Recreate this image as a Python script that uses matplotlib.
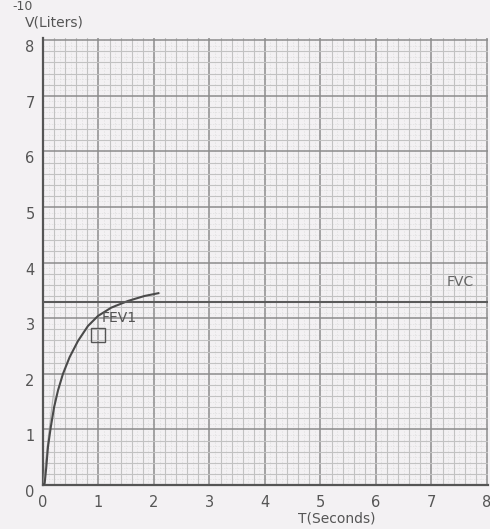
import matplotlib
matplotlib.use("Agg")
import matplotlib.pyplot as plt
import numpy as np
from matplotlib.ticker import MultipleLocator

# Data
curve_t = [0.0, 0.03, 0.06, 0.09, 0.14, 0.20, 0.27, 0.36, 0.48, 0.63, 0.81, 0.99, 1.23, 1.53, 1.83, 2.08]
curve_v = [0.0, 0.03, 0.33, 0.69, 1.04, 1.40, 1.70, 2.00, 2.30, 2.59, 2.86, 3.04, 3.19, 3.31, 3.40, 3.45]
faint_t = [0.0, 0.05, 0.10, 0.16, 0.22]
faint_v = [0.0, 0.45, 0.90, 1.40, 1.89]
fvc_level = 3.29
fev1_point = (1.0, 2.70)
x_ticks = [0, 1, 2, 3, 4, 5, 6, 7, 8]
y_ticks = [0, 1, 2, 3, 4, 5, 6, 7, 8]

W, H = 490, 529
fig = plt.figure(figsize=(W / 100, H / 100), dpi=100)
paper = "#f3f1f3"
fig.patch.set_facecolor(paper)

x0, x1 = 43, 488
y0, y1 = 485, 38
ax = fig.add_axes([x0 / W, 1 - y0 / H, (x1 - x0) / W, (y0 - y1) / H])
ax.set_facecolor(paper)
ax.set_xlim(0, 8.02)
ax.set_ylim(0, 8.04)

ax.xaxis.set_major_locator(MultipleLocator(1))
ax.yaxis.set_major_locator(MultipleLocator(1))
ax.xaxis.set_minor_locator(MultipleLocator(0.2))
ax.yaxis.set_minor_locator(MultipleLocator(0.2))
ax.grid(which="major", color="#8c8c8c", linewidth=1.1)
ax.grid(which="minor", color="#c2c2c2", linewidth=0.8)
# faint finer paper lines
for v in np.arange(0.1, 8.0, 0.2):
    ax.axvline(v, color="#dedede", linewidth=0.5, linestyle=(0, (2, 2)), zorder=0.5)
    ax.axhline(v, color="#dedede", linewidth=0.5, linestyle=(0, (2, 2)), zorder=0.5)
ax.set_axisbelow(True)

for s in ["top", "right"]:
    ax.spines[s].set_visible(False)
for s in ["left", "bottom"]:
    ax.spines[s].set_color("#555555")
    ax.spines[s].set_linewidth(1.6)

ax.set_xticks(x_ticks)
ax.set_yticks(y_ticks)
ax.set_xticklabels([str(t) for t in x_ticks])
ax.set_yticklabels([str(t) for t in y_ticks])
ax.tick_params(which="both", length=0)
ax.tick_params(axis="x", pad=7, labelsize=10.5, labelcolor="#555555")
ax.tick_params(axis="y", pad=6, labelsize=10.5, labelcolor="#555555")
for lbl in ax.get_yticklabels():
    lbl.set_verticalalignment("top")

# curves
ax.plot(faint_t, faint_v, color="#a0a0a0", linewidth=0.9, alpha=0.7, zorder=3)
ax.plot(curve_t, curve_v, color="#4a4a4a", linewidth=1.5, zorder=4,
        solid_joinstyle="round")
ax.axhline(fvc_level, color="#5a5a5a", linewidth=1.5, zorder=4)
ax.plot([fev1_point[0]], [fev1_point[1]], marker="s", markersize=10,
        markerfacecolor="none", markeredgecolor="#555555", markeredgewidth=1.0,
        linestyle="none", zorder=5)

ax.text(1.05, 3.0, "FEV1", fontsize=10, color="#555555", va="center", ha="left", zorder=6)
ax.text(7.28, 3.65, "FVC", fontsize=10, color="#666666", va="center", ha="left", zorder=6)

fig.text(25 / W, 1 - 22 / H, "V(Liters)", fontsize=10, color="#555555", ha="left", va="center")
fig.text(337 / W, 1 - 518 / H, "T(Seconds)", fontsize=10, color="#555555", ha="center", va="center")
fig.text(12 / W, 1 - 6 / H, "-10", fontsize=9, color="#555555", ha="left", va="center")

fig.savefig("out.png", dpi=100, facecolor=paper)
